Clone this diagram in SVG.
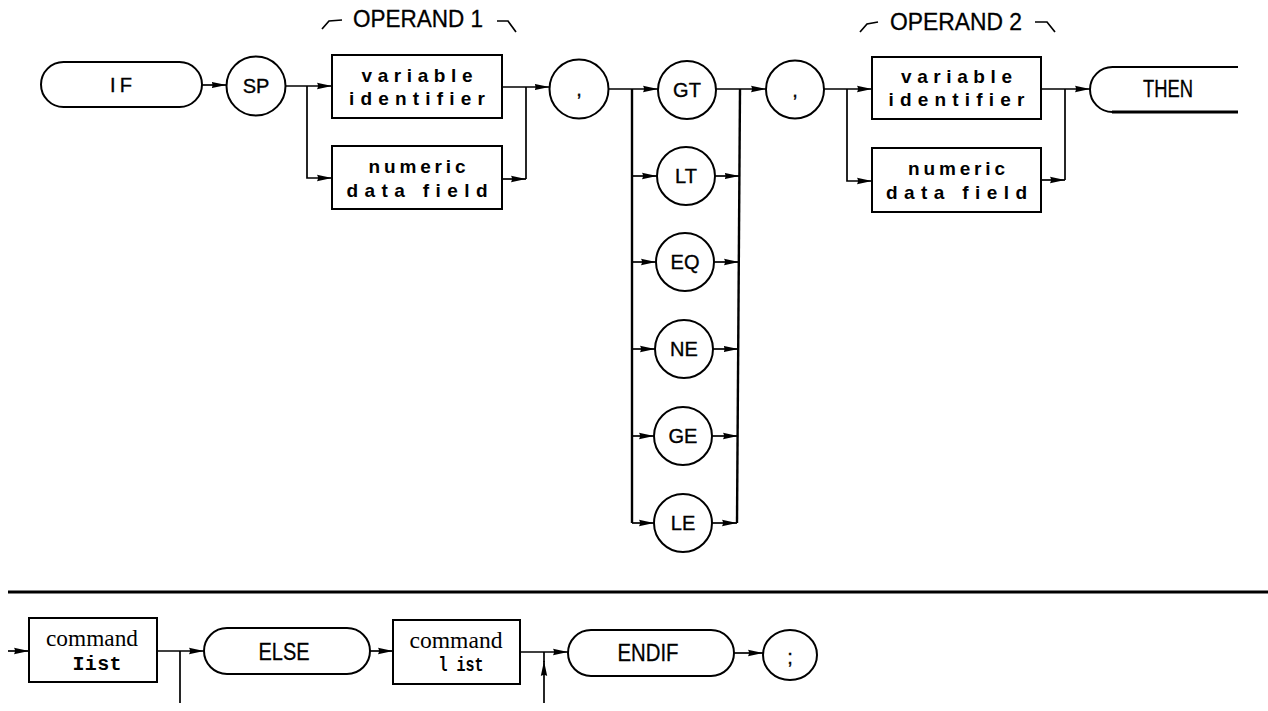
<svg xmlns="http://www.w3.org/2000/svg" width="1268" height="711" viewBox="0 0 1268 711">
<style>
.s{fill:none;stroke:#000;stroke-width:2}
.c{fill:none;stroke:#000;stroke-width:1.7}
.v{fill:none;stroke:#000;stroke-width:2.4}
.t{font-family:"Liberation Sans",Arial,sans-serif;font-size:20px;fill:#000;stroke:#000;stroke-width:0.35;text-anchor:middle}
.o{font-family:"Liberation Sans",Arial,sans-serif;font-size:23px;fill:#000;stroke:#000;stroke-width:0.3}
.b{font-family:"Liberation Sans",Arial,sans-serif;font-size:19px;font-weight:bold;fill:#000;text-anchor:middle}
.sf{font-family:"Liberation Serif","Times New Roman",serif;font-size:24px;fill:#000;text-anchor:middle}
.m{font-family:"Liberation Mono","Courier New",monospace;font-size:20px;font-weight:bold;fill:#000;text-anchor:middle}
</style>
<defs>
<marker id="ah" markerWidth="15" markerHeight="9" refX="15" refY="4.5" orient="auto" markerUnits="userSpaceOnUse">
<path d="M0,1.3 Q2,4.5 0,7.7 L15,4.5 Z" fill="#000"/>
</marker>
</defs>

<g id="labels">
<path class="c" d="M322,29 L329,21 L342,20"/>
<text class="o" x="353" y="27" textLength="130" lengthAdjust="spacingAndGlyphs">OPERAND 1</text>
<path class="c" d="M497,21 L508,21 L516,32"/>
<path class="c" d="M860,32 L867,24 L878,22"/>
<text class="o" x="890" y="30" textLength="132" lengthAdjust="spacingAndGlyphs">OPERAND 2</text>
<path class="c" d="M1035,22 L1047,22 L1055,32"/>
</g>

<g id="connectors">
<path class="c" d="M202,85 H226.5" marker-end="url(#ah)"/>
<path class="c" d="M285.5,86 H332" marker-end="url(#ah)"/>
<path class="c" d="M307,86 V178 H332" marker-end="url(#ah)"/>
<path class="c" d="M502,87 H549.5" marker-end="url(#ah)"/>
<path class="c" d="M502,179 H526" marker-end="url(#ah)"/>
<path class="c" d="M526,87 V179"/>
<path class="c" d="M608.5,89 H658" marker-end="url(#ah)"/>
<path class="v" d="M632,89 V523"/>
<path class="c" d="M632,176 H657" marker-end="url(#ah)"/>
<path class="c" d="M632,262 H656" marker-end="url(#ah)"/>
<path class="c" d="M632,349 H655" marker-end="url(#ah)"/>
<path class="c" d="M632,436 H654" marker-end="url(#ah)"/>
<path class="c" d="M632,523 H654" marker-end="url(#ah)"/>
<path class="c" d="M716,89 H766" marker-end="url(#ah)"/>
<path class="v" d="M740,89 L737,523"/>
<path class="c" d="M715,176 H739.5" marker-end="url(#ah)"/>
<path class="c" d="M714,262 H739" marker-end="url(#ah)"/>
<path class="c" d="M713,349 H738.5" marker-end="url(#ah)"/>
<path class="c" d="M712,436 H738" marker-end="url(#ah)"/>
<path class="c" d="M712,523 H737" marker-end="url(#ah)"/>
<path class="c" d="M824,89 H872" marker-end="url(#ah)"/>
<path class="c" d="M847,89 V181 H872" marker-end="url(#ah)"/>
<path class="c" d="M1041,89 H1090" marker-end="url(#ah)"/>
<path class="c" d="M1041,180 H1065" marker-end="url(#ah)"/>
<path class="c" d="M1065,89 V180"/>
<line x1="8" y1="592" x2="1268" y2="592" stroke="#000" stroke-width="3"/>
<path class="c" d="M8,651 H29" marker-end="url(#ah)"/>
<path class="c" d="M157,651 H204" marker-end="url(#ah)"/>
<path class="c" d="M180,651 V703"/>
<path class="c" d="M370,651 H393" marker-end="url(#ah)"/>
<path class="c" d="M520,652 H568" marker-end="url(#ah)"/>
<path class="c" d="M544,703 V661" marker-end="url(#ah)"/>
<path class="c" d="M544,662 V652"/>
<path class="c" d="M734,653 H763" marker-end="url(#ah)"/>
</g>

<g id="n-if">
<rect class="s" x="41" y="62" width="161" height="45" rx="22.5"/>
<text class="t" x="121" y="92" textLength="22" lengthAdjust="spacing">IF</text>
</g>
<g id="n-sp">
<circle class="s" cx="256" cy="86" r="29.5"/>
<text class="t" x="256" y="93">SP</text>
</g>
<g id="n-var1">
<rect class="s" x="332" y="55" width="170" height="63"/>
<text class="b" x="417" y="82" textLength="111" lengthAdjust="spacing">variable</text>
<text class="b" x="417" y="105" textLength="136" lengthAdjust="spacing">identifier</text>
</g>
<g id="n-num1">
<rect class="s" x="332" y="146" width="170" height="63"/>
<text class="b" x="417" y="173" textLength="97" lengthAdjust="spacing">numeric</text>
<text class="b" x="417" y="197" textLength="141" lengthAdjust="spacing">data field</text>
</g>
<g id="n-comma1">
<circle class="s" cx="579" cy="89" r="29.5"/>
<text class="t" x="579" y="96" font-size="22">,</text>
</g>
<g id="n-gt">
<circle class="s" cx="687" cy="90" r="29"/>
<text class="t" x="687" y="97">GT</text>
</g>
<g id="n-lt">
<circle class="s" cx="686" cy="176" r="29"/>
<text class="t" x="686" y="183">LT</text>
</g>
<g id="n-eq">
<circle class="s" cx="685" cy="262" r="29"/>
<text class="t" x="685" y="269">EQ</text>
</g>
<g id="n-ne">
<circle class="s" cx="684" cy="349" r="29"/>
<text class="t" x="684" y="356">NE</text>
</g>
<g id="n-ge">
<circle class="s" cx="683" cy="436" r="29"/>
<text class="t" x="683" y="443">GE</text>
</g>
<g id="n-le">
<circle class="s" cx="683" cy="523" r="29"/>
<text class="t" x="683" y="530">LE</text>
</g>
<g id="n-comma2">
<circle class="s" cx="795" cy="89.5" r="29"/>
<text class="t" x="795" y="97" font-size="22">,</text>
</g>
<g id="n-var2">
<rect class="s" x="872" y="57" width="169" height="62"/>
<text class="b" x="956.5" y="83" textLength="111" lengthAdjust="spacing">variable</text>
<text class="b" x="956.5" y="106" textLength="136" lengthAdjust="spacing">identifier</text>
</g>
<g id="n-num2">
<rect class="s" x="872" y="148" width="169" height="64"/>
<text class="b" x="956.5" y="175" textLength="97" lengthAdjust="spacing">numeric</text>
<text class="b" x="956.5" y="199" textLength="141" lengthAdjust="spacing">data field</text>
</g>
<g id="n-then">
<path class="s" d="M1238,67 H1112.5 A22.5,22.5 0 0 0 1112.5,112"/>
<line x1="1112" y1="112" x2="1238" y2="112" stroke="#000" stroke-width="3.2"/>
<text class="o" x="1168" y="97" text-anchor="middle" textLength="50" lengthAdjust="spacingAndGlyphs">THEN</text>
</g>

<g id="n-cmd1">
<rect class="s" x="29" y="618" width="128" height="64"/>
<text class="sf" x="92" y="646" textLength="92" lengthAdjust="spacingAndGlyphs">command</text>
<text class="m" x="97" y="670" textLength="49" lengthAdjust="spacing">Iist</text>
</g>
<g id="n-else">
<rect class="s" x="204" y="628" width="166" height="46" rx="23"/>
<text class="o" x="284" y="660" text-anchor="middle" textLength="51" lengthAdjust="spacingAndGlyphs">ELSE</text>
</g>
<g id="n-cmd2">
<rect class="s" x="393" y="620" width="127" height="64"/>
<text class="sf" x="456" y="648" textLength="93" lengthAdjust="spacingAndGlyphs">command</text>
<text class="m" x="461" y="671" textLength="45" lengthAdjust="spacingAndGlyphs">l ist</text>
</g>
<g id="n-endif">
<rect class="s" x="568" y="630" width="166" height="46" rx="23"/>
<text class="o" x="648" y="661" text-anchor="middle" textLength="61" lengthAdjust="spacingAndGlyphs">ENDIF</text>
</g>
<g id="n-semi">
<ellipse class="s" cx="790" cy="655" rx="27" ry="25"/>
<text class="t" x="790" y="664" font-size="22">;</text>
</g>
</svg>
